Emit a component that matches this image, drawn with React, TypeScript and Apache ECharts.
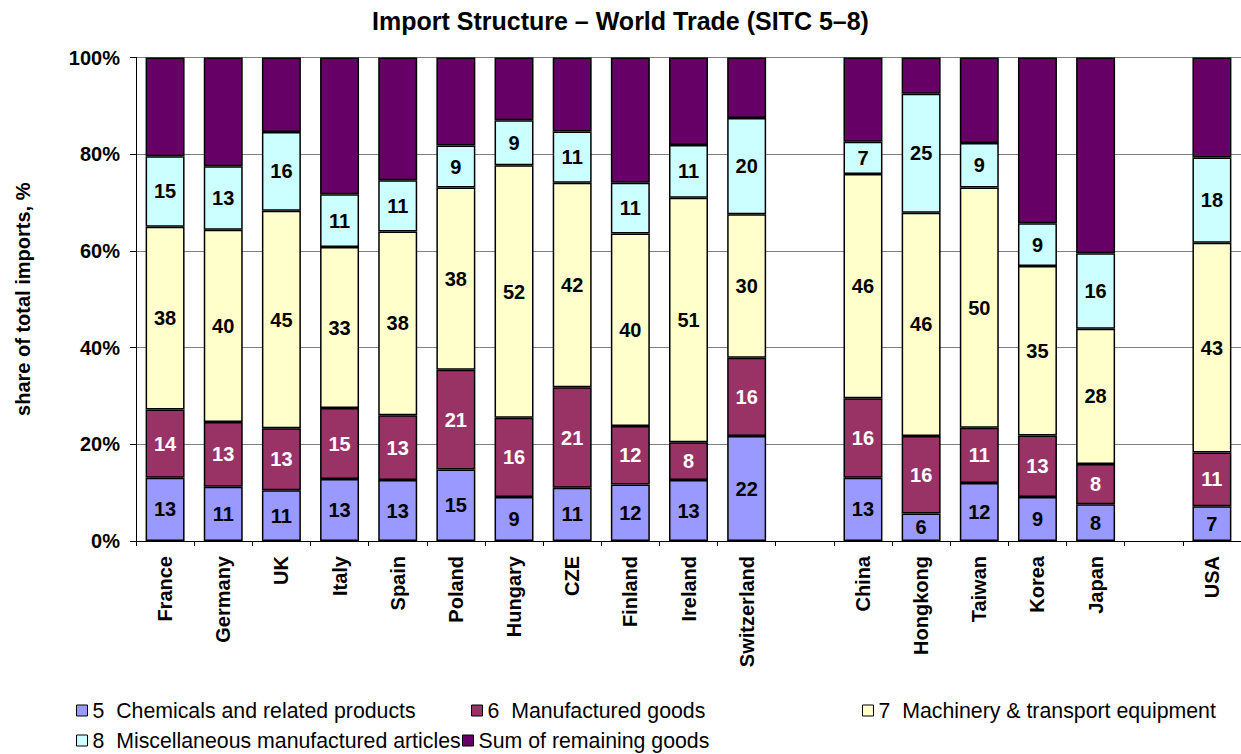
import React, { useEffect, useRef } from "react";
import * as echarts from "echarts";

const categories = ["France", "Germany", "UK", "Italy", "Spain", "Poland", "Hungary", "CZE", "Finland", "Ireland", "Switzerland", " ", "China", "Hongkong", "Taiwan", "Korea", "Japan", "  ", "USA"];

const chemicals = [13.1, 11.2, 10.5, 12.8, 12.6, 14.8, 9.1, 11.0, 11.7, 12.6, 21.7, null, 13.1, 5.7, 12.0, 9.1, 7.6, null, 7.2];
const manufactured = [14.1, 13.4, 12.8, 14.7, 13.4, 20.6, 16.4, 20.8, 12.1, 7.8, 16.2, null, 16.4, 16.0, 11.4, 12.7, 8.3, null, 11.1];
const machinery = [37.8, 39.8, 45.0, 33.3, 38.0, 37.7, 52.2, 42.3, 39.8, 50.6, 29.7, null, 46.4, 46.2, 49.7, 35.1, 28.0, null, 43.4];
const miscellaneous = [14.6, 13.1, 16.3, 10.9, 10.6, 8.7, 9.3, 10.6, 10.5, 10.9, 19.9, null, 6.7, 24.6, 9.2, 8.8, 15.6, null, 17.6];
const remaining = [20.4, 22.5, 15.4, 28.3, 25.4, 18.2, 13.0, 15.3, 25.9, 18.1, 12.5, null, 17.4, 7.5, 17.7, 34.3, 40.5, null, 20.7];

const yTicks = [0, 20, 40, 60, 80, 100];

const NAMES = {
  chem: "5  Chemicals and related products",
  manuf: "6  Manufactured goods",
  mach: "7  Machinery & transport equipment",
  misc: "8  Miscellaneous manufactured articles",
  rem: "Sum of remaining goods",
};

const FONT = "Arial, 'Liberation Sans', Helvetica, sans-serif";

export default function App() {
  const ref = useRef<HTMLDivElement>(null);

  useEffect(() => {
    if (!ref.current) return;
    const chart = echarts.init(ref.current, null, { renderer: "svg" });

    const mkSeries = (name: string, data: (number | null)[], color: string, labelColor: string | null) => ({
      name,
      type: "bar",
      stack: "total",
      data,
      barCategoryGap: "33%",
      itemStyle: { color, borderColor: "#000", borderWidth: 1.5 },
      label: labelColor
        ? {
            show: true,
            position: "inside",
            color: labelColor,
            fontFamily: FONT,
            fontWeight: "bold",
            fontSize: 20,
            formatter: (p: any) => (p.value == null ? "" : String(Math.round(p.value))),
          }
        : { show: false },
      emphasis: { disabled: true },
    });

    const legendBase = {
      orient: "horizontal",
      padding: 0,
      icon: "rect",
      itemWidth: 11,
      itemHeight: 11,
      itemGap: 0,
      itemStyle: { borderColor: "#000", borderWidth: 1 },
      textStyle: { fontFamily: FONT, fontSize: 21.3, color: "#000" },
      selectedMode: false,
    };

    chart.setOption({
      animation: false,
      backgroundColor: "#fff",
      title: {
        text: "Import Structure \u2013 World Trade (SITC 5\u20138)",
        left: "center",
        top: 8,
        padding: 0,
        textStyle: { fontFamily: FONT, fontWeight: "bold", fontSize: 25, color: "#000" },
      },
      legend: [
        { ...legendBase, data: [NAMES.chem], left: 76, top: 700 },
        { ...legendBase, data: [NAMES.manuf], left: 471, top: 700 },
        { ...legendBase, data: [NAMES.mach], left: 862, top: 700 },
        { ...legendBase, data: [NAMES.misc], left: 76, top: 730 },
        { ...legendBase, data: [NAMES.rem], left: 462, top: 730 },
      ],
      grid: { left: 136, right: 0, top: 57.5, bottom: 213, containLabel: false },
      xAxis: {
        type: "category",
        data: categories,
        axisLine: { show: true, lineStyle: { color: "#000", width: 1 } },
        axisTick: { show: true, length: 5, lineStyle: { color: "#000" } },
        axisLabel: {
          rotate: 90,
          margin: 15,
          interval: 0,
          fontFamily: FONT,
          fontWeight: "bold",
          fontSize: 20,
          color: "#000",
        },
      },
      yAxis: {
        type: "value",
        min: 0,
        max: 100,
        interval: 20,
        name: "share of total imports, %",
        nameLocation: "middle",
        nameRotate: 90,
        nameGap: 103,
        nameTextStyle: { fontFamily: FONT, fontWeight: "bold", fontSize: 20, color: "#000" },
        axisLine: { show: true, lineStyle: { color: "#000", width: 1 } },
        axisTick: { show: true, length: 6, lineStyle: { color: "#000" } },
        axisLabel: {
          margin: 16,
          fontFamily: FONT,
          fontWeight: "bold",
          fontSize: 20,
          color: "#000",
          formatter: (v: number) => (yTicks.includes(v) ? `${v}%` : ""),
        },
        splitLine: { show: true, lineStyle: { color: "#808080", width: 1 } },
      },
      series: [
        mkSeries(NAMES.chem, chemicals, "#9999FF", "#000"),
        mkSeries(NAMES.manuf, manufactured, "#993366", "#fff"),
        mkSeries(NAMES.mach, machinery, "#FFFFCC", "#000"),
        mkSeries(NAMES.misc, miscellaneous, "#CCFFFF", "#000"),
        mkSeries(NAMES.rem, remaining, "#660066", null),
      ],
    });

    return () => chart.dispose();
  }, []);

  return <div ref={ref} style={{ width: 1241, height: 754, position: "absolute", left: 0, top: 0 }} />;
}
